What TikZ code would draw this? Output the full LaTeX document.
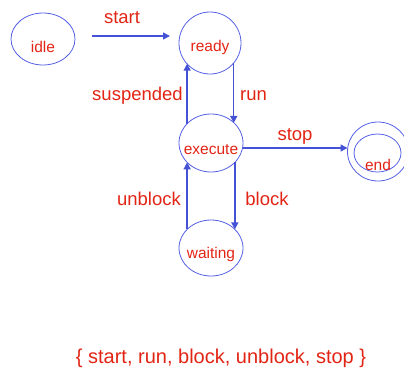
\documentclass[tikz,border=0pt]{standalone}
\usepackage{fontspec}
\setmainfont{Liberation Sans}
\usetikzlibrary{shapes.geometric,arrows.meta,calc}
\definecolor{ringblue}{RGB}{84,96,228}
\definecolor{arrblue}{RGB}{70,82,214}
\definecolor{txtred}{RGB}{226,36,20}
\begin{document}
\begin{tikzpicture}[x=1pt,y=-1pt,
  state/.style={ellipse,draw=ringblue,line width=0.8pt,inner sep=0pt,outer sep=0pt},
  statetext/.style={text=txtred,anchor=base,font=\fontsize{15.5}{18}\selectfont,inner sep=0pt},
  lbl/.style={text=txtred,anchor=base,font=\fontsize{18.5}{21}\selectfont,inner sep=0pt},
  arr/.style={draw=arrblue,line width=1.5pt,-{Triangle[length=7pt,width=7pt]}}]
\useasboundingbox (0,0) rectangle (404,373);
\clip (0,0) rectangle (404,373);
% states
\node[state,minimum width=64pt,minimum height=52pt] (idle) at (43,39) {};
\node[state,minimum width=62pt,minimum height=62pt] (ready) at (210,43) {};
\node[state,minimum width=64pt,minimum height=58pt] (execute) at (211,143) {};
\node[state,minimum width=64pt,minimum height=56pt] (waiting) at (211,248) {};
\node[state,minimum width=61pt,minimum height=59pt] (endo) at (378,151.5) {};
\node[state,minimum width=47pt,minimum height=38pt] (endi) at (377.5,153) {};
% state texts
\node[statetext] (tidle) at (43,52) {idle};
\node[statetext] (tready) at (210,51) {ready};
\node[statetext] (texec) at (211,154) {execute};
\node[statetext] (twait) at (211,258) {waiting};
\node[statetext] (tend) at (378,170) {end};
% connectors
\draw[arr] ([xshift=17pt,yshift=3pt]idle.east) -- ([xshift=-9pt,yshift=3pt]idle.east -| ready.west);
\draw[arr] (execute.141) -- (execute.141 |- ready.222);
\draw[arr] (ready.320) -- (ready.320 |- execute.41);
\draw[arr] ([yshift=-5pt]execute.east) -- ([yshift=-5pt]execute.east -| endo.west);
\draw[arr] (waiting.142) -- (waiting.142 |- execute.219);
\draw[arr] (execute.321) -- (execute.321 |- waiting.38);
% labels
\node[lbl] (lstart) at (122,23) {start};
\node[lbl] (lsusp) at (137.5,100) {suspended};
\node[lbl] (lrun) at (253.5,100) {run};
\node[lbl] (lstop) at (295,140) {stop};
\node[lbl] (lunbl) at (149,205) {unblock};
\node[lbl] (lblock) at (267,205) {block};
\node[lbl,font=\fontsize{20}{23}\selectfont] (lset) at (221,363) {\{ start, run, block, unblock, stop \}};
\end{tikzpicture}
\end{document}
